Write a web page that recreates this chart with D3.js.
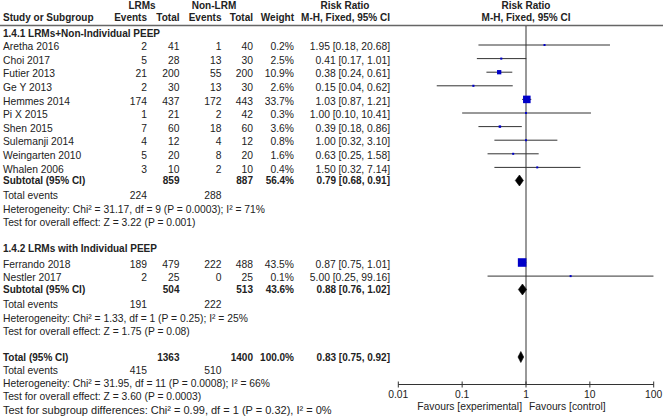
<!DOCTYPE html>
<html><head><meta charset="utf-8">
<script src="https://cdn.jsdelivr.net/npm/d3@7"></script>
<style>
html,body{margin:0;padding:0;background:#fff;}
svg text{font-family:Arial,"Liberation Sans",sans-serif;font-size:10.3px;fill:#222;}
svg text.b{font-weight:bold;font-size:10px;}
svg text.big{font-size:11px;}
</style></head>
<body><svg id="c" width="663" height="420"></svg>
<script>
// ---------- data ----------
const studies = ["Aretha 2016","Choi 2017","Futier 2013","Ge Y 2013","Hemmes 2014","Pi X 2015","Shen 2015","Sulemanji 2014","Weingarten 2010","Whalen 2006","Ferrando 2018","Nestler 2017"];
const studyGroup = [0,0,0,0,0,0,0,0,0,0,1,1];
const lrmEvents = [2,5,21,2,174,1,7,4,5,3,189,2];
const lrmTotal = [41,28,200,30,437,21,60,12,20,10,479,25];
const nonEvents = [1,13,55,13,172,2,18,4,8,2,222,0];
const nonTotal = [40,30,200,30,443,42,60,12,20,10,488,25];
const weights = [0.2,2.5,10.9,2.6,33.7,0.3,3.6,0.8,1.6,0.4,43.5,0.1];
const rr = [1.95,0.41,0.38,0.15,1.03,1.00,0.39,1.00,0.63,1.50,0.87,5.00];
const rrLo = [0.18,0.17,0.24,0.04,0.87,0.10,0.18,0.32,0.25,0.32,0.75,0.25];
const rrHi = [20.68,1.01,0.61,0.62,1.21,10.41,0.86,3.10,1.58,7.14,1.01,99.16];

const groupNames = ["1.4.1 LRMs+Non-Individual PEEP","1.4.2 LRMs with Individual PEEP"];
const groupLrmTotal = [859,504];
const groupNonTotal = [887,513];
const groupWeight = ["56.4%","43.6%"];
const groupRR = [0.79,0.88];
const groupLo = [0.68,0.76];
const groupHi = [0.91,1.02];
const groupLrmEvents = [224,191];
const groupNonEvents = [288,222];
const groupHet = ["Heterogeneity: Chi\u00b2 = 31.17, df = 9 (P = 0.0003); I\u00b2 = 71%","Heterogeneity: Chi\u00b2 = 1.33, df = 1 (P = 0.25); I\u00b2 = 25%"];
const groupTest = ["Test for overall effect: Z = 3.22 (P = 0.001)","Test for overall effect: Z = 1.75 (P = 0.08)"];

const totalLrm = 1363, totalNon = 1400, totalWeight = "100.0%";
const totalRR = 0.83, totalLo = 0.75, totalHi = 0.92;
const totalLrmEvents = 415, totalNonEvents = 510;
const totalHet = "Heterogeneity: Chi\u00b2 = 31.95, df = 11 (P = 0.0008); I\u00b2 = 66%";
const totalTest = "Test for overall effect: Z = 3.60 (P = 0.0003)";
const subgroupTest = "Test for subgroup differences: Chi\u00b2 = 0.99, df = 1 (P = 0.32), I\u00b2 = 0%";

const tickValues = [0.01,0.1,1,10,100];
const tickLabels = ["0.01","0.1","1","10","100"];

// ---------- layout ----------
const svg = d3.select("#c");
const x = d3.scaleLog().domain([0.01,100]).range([398.3,653.7]);
const colR = {le:147, lt:179.5, ne:221.5, nt:253, w:294, ci:390};
const fmt2 = d3.format(".2f");
const ciText = (r,l,h)=> fmt2(r)+" ["+fmt2(l)+", "+fmt2(h)+"]";
const BL = 3.7; // baseline offset from text center

function txt(xp, yc, s, anchor, bold, cls){
  svg.append("text").attr("x",xp).attr("y",yc+BL).attr("text-anchor",anchor||"start")
    .attr("class",cls || (bold?"b":null)).text(s);
}

// headers
txt(142,5,"LRMs","middle",true);
txt(214,5,"Non-LRM","middle",true);
txt(345,5,"Risk Ratio","middle",true);
txt(526,5,"Risk Ratio","middle",true);
txt(3,17,"Study or Subgroup","start",true);
txt(colR.le,17,"Events","end",true);
txt(colR.lt,17,"Total","end",true);
txt(colR.ne,17,"Events","end",true);
txt(colR.nt,17,"Total","end",true);
txt(colR.w,17,"Weight","end",true);
txt(colR.ci,17,"M-H, Fixed, 95% CI","end",true);
txt(526,17,"M-H, Fixed, 95% CI","middle",true);
svg.append("line").attr("x1",0).attr("x2",663).attr("y1",25.5).attr("y2",25.5)
  .attr("stroke","#666").attr("stroke-width",1.5);

// row positions
const rowStep = 13.6;
const groupHeadY = [33, 248.5];
const groupFirstY = [46.5, 264];
const groupSubY = [180.5, 289.5];

const plot = svg.append("g");
// vertical null line
plot.append("line").attr("x1",x(1)).attr("x2",x(1)).attr("y1",26).attr("y2",384.5)
  .attr("stroke","#333").attr("stroke-width",1);

const sqK = 1.3;
function diamond(yc, r, l, h){
  const hh = 5.5;
  plot.append("path")
    .attr("d",`M${x(l)},${yc}L${x(r)},${yc-hh}L${x(h)},${yc}L${x(r)},${yc+hh}Z`)
    .attr("fill","#000").attr("stroke","#000").attr("stroke-width",0.6);
}

groupNames.forEach((gname, g)=>{
  txt(3, groupHeadY[g], gname, "start", true);
  const idx = studies.map((s,i)=>i).filter(i=>studyGroup[i]===g);
  idx.forEach((i,k)=>{
    const yc = groupFirstY[g] + k*rowStep;
    txt(3,yc,studies[i]);
    txt(colR.le,yc,lrmEvents[i],"end");
    txt(colR.lt,yc,lrmTotal[i],"end");
    txt(colR.ne,yc,nonEvents[i],"end");
    txt(colR.nt,yc,nonTotal[i],"end");
    txt(colR.w,yc,weights[i].toFixed(1)+"%","end");
    txt(colR.ci,yc,ciText(rr[i],rrLo[i],rrHi[i]),"end");
    const ym = yc-1.5;
    plot.append("line").attr("x1",x(rrLo[i])).attr("x2",x(rrHi[i])).attr("y1",ym).attr("y2",ym)
      .attr("stroke","#333").attr("stroke-width",1);
    const s = Math.max(2, sqK*Math.sqrt(weights[i]));
    plot.append("rect").attr("x",x(rr[i])-s/2).attr("y",ym-s/2).attr("width",s).attr("height",s)
      .attr("fill","#0000c8");
  });
  const ys = groupSubY[g];
  txt(3,ys,"Subtotal (95% CI)","start",true);
  txt(colR.lt,ys,groupLrmTotal[g],"end",true);
  txt(colR.nt,ys,groupNonTotal[g],"end",true);
  txt(colR.w,ys,groupWeight[g],"end",true);
  txt(colR.ci,ys,ciText(groupRR[g],groupLo[g],groupHi[g]),"end",true);
  diamond(ys, groupRR[g], groupLo[g], groupHi[g]);
  txt(3,ys+15,"Total events");
  txt(colR.le,ys+15,groupLrmEvents[g],"end");
  txt(colR.ne,ys+15,groupNonEvents[g],"end");
  txt(3,ys+28.5,groupHet[g]);
  txt(3,ys+41.5,groupTest[g]);
});

// overall total
const yt = 357;
txt(3,yt,"Total (95% CI)","start",true);
txt(colR.lt,yt,totalLrm,"end",true);
txt(colR.nt,yt,totalNon,"end",true);
txt(colR.w,yt,totalWeight,"end",true);
txt(colR.ci,yt,ciText(totalRR,totalLo,totalHi),"end",true);
diamond(yt, totalRR, totalLo, totalHi);
txt(3,yt+13.5,"Total events");
txt(colR.le,yt+13.5,totalLrmEvents,"end");
txt(colR.ne,yt+13.5,totalNonEvents,"end");
txt(3,yt+26.5,totalHet);
txt(3,yt+39.5,totalTest);
txt(3,yt+53,subgroupTest,"start",false,"big");

// axis
const axisY = 384.5;
const ax = svg.append("g").attr("transform",`translate(0,${axisY})`);
ax.append("line").attr("x1",x(0.01)).attr("x2",x(100)).attr("stroke","#333");
ax.selectAll("line.t").data(tickValues).join("line").attr("class","t")
  .attr("x1",d=>x(d)).attr("x2",d=>x(d)).attr("y1",-3).attr("y2",3).attr("stroke","#333");
ax.selectAll("text.tl").data(tickValues).join("text").attr("class","tl")
  .attr("x",d=>x(d)).attr("y",13).attr("text-anchor","middle").text((d,i)=>tickLabels[i]);
txt(522,406,"Favours [experimental]","end");
txt(529,406,"Favours [control]","start");
</script></body></html>
